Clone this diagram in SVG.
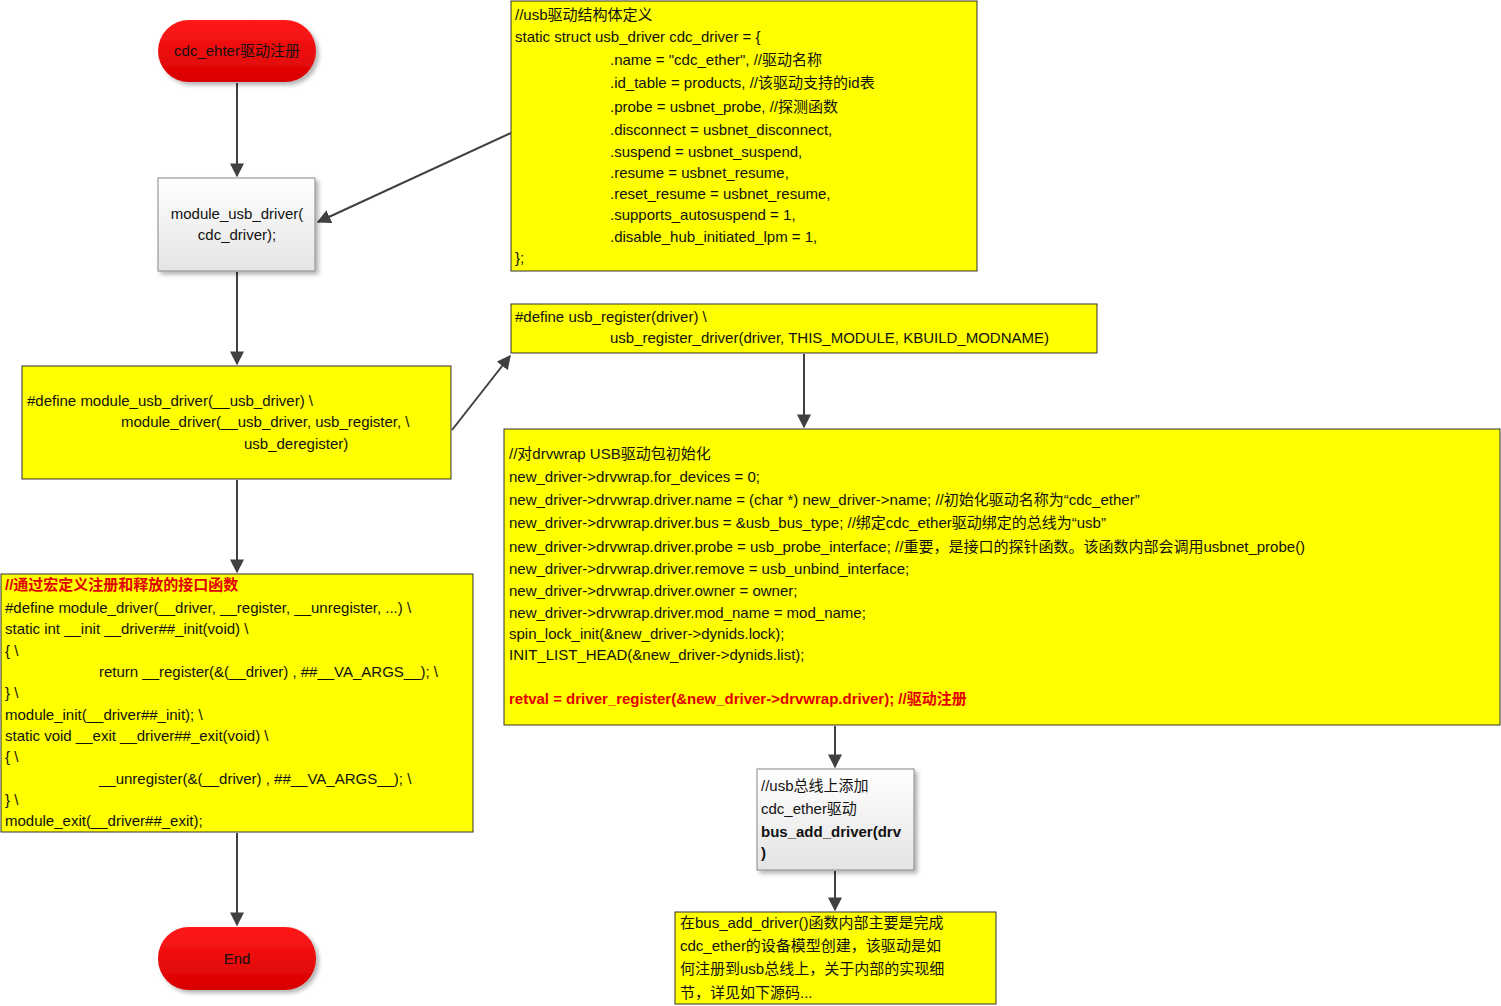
<svg xmlns="http://www.w3.org/2000/svg" width="1501" height="1006" viewBox="0 0 1501 1006">
<style>
text{font-family:"Liberation Sans","Noto Sans CJK SC",sans-serif;font-size:15px;fill:#111}
.y{fill:#ffff00;stroke:#333;stroke-width:1}
.r{fill:#e01010}
.c{stroke:#404040;stroke-width:2;fill:none;marker-end:url(#a)}
.red{fill:#e00000;font-weight:bold}
.b{font-weight:bold}
</style>
<defs>
<marker id="a" viewBox="0 0 10 10" refX="9" refY="5" markerWidth="7" markerHeight="7" orient="auto-start-reverse"><path d="M0,0L10,5L0,10z" fill="#404040"/></marker>
<linearGradient id="g" x1="0" y1="0" x2="0" y2="1"><stop offset="0" stop-color="#fff"/><stop offset="1" stop-color="#e4e4e4"/></linearGradient>
<linearGradient id="rg" x1="0" y1="0" x2="0" y2="1"><stop offset="0" stop-color="#ff1a1a"/><stop offset="1" stop-color="#d80000"/></linearGradient>
<filter id="s" x="-10%" y="-10%" width="130%" height="130%"><feDropShadow dx="3" dy="3" stdDeviation="2" flood-color="#000" flood-opacity="0.3"/></filter>
</defs>
<g id="connectors">
<path class="c" d="M237,83V176"/>
<path class="c" d="M237,272V364"/>
<path class="c" d="M237,480V572"/>
<path class="c" d="M237,833V925"/>
<path class="c" d="M511,133L318,222"/>
<path class="c" d="M452,430L510,356"/>
<path class="c" d="M804,354V427"/>
<path class="c" d="M835,726V767"/>
<path class="c" d="M835,871V910"/>
</g>
<g id="start"><rect x="158" y="20" width="158" height="62" rx="31" fill="url(#rg)" filter="url(#s)"/><text x="237" y="56" text-anchor="middle">cdc_ehter驱动注册</text></g>
<g id="module"><rect x="158" y="178" width="157" height="93" fill="url(#g)" stroke="#888" filter="url(#s)"/><text x="237" y="219" text-anchor="middle">module_usb_driver(</text><text x="237" y="240" text-anchor="middle">cdc_driver);</text></g>
<g id="struct"><rect class="y" x="511" y="1" width="466" height="270"/>
<text x="515" y="20">//usb驱动结构体定义</text>
<text x="515" y="42">static struct usb_driver cdc_driver = {</text>
<text x="610" y="65">.name = "cdc_ether", //驱动名称</text>
<text x="610" y="88">.id_table =    products, //该驱动支持的id表</text>
<text x="610" y="112">.probe =       usbnet_probe, //探测函数</text>
<text x="610" y="135">.disconnect =  usbnet_disconnect,</text>
<text x="610" y="157">.suspend =     usbnet_suspend,</text>
<text x="610" y="178">.resume =      usbnet_resume,</text>
<text x="610" y="199">.reset_resume = usbnet_resume,</text>
<text x="610" y="220">.supports_autosuspend = 1,</text>
<text x="610" y="242">.disable_hub_initiated_lpm = 1,</text>
<text x="515" y="263">};</text></g>
<g id="usbreg"><rect class="y" x="511" y="304" width="586" height="49"/>
<text x="515" y="322">#define usb_register(driver) \</text>
<text x="610" y="343">usb_register_driver(driver, THIS_MODULE, KBUILD_MODNAME)</text></g>
<g id="modusb"><rect class="y" x="22" y="366" width="429" height="113"/>
<text x="27" y="406">#define module_usb_driver(__usb_driver) \</text>
<text x="121" y="427">module_driver(__usb_driver, usb_register, \</text>
<text x="244" y="449">usb_deregister)</text></g>
<g id="moddrv"><rect class="y" x="1" y="574" width="472" height="258"/>
<text x="5" y="590" class="red">//通过宏定义注册和释放的接口函数</text>
<text x="5" y="613">#define module_driver(__driver, __register, __unregister, ...) \</text>
<text x="5" y="634">static int __init __driver##_init(void) \</text>
<text x="5" y="656">{ \</text>
<text x="99" y="677">return __register(&amp;(__driver) , ##__VA_ARGS__); \</text>
<text x="5" y="698">} \</text>
<text x="5" y="720">module_init(__driver##_init); \</text>
<text x="5" y="741">static void __exit __driver##_exit(void) \</text>
<text x="5" y="762">{ \</text>
<text x="99" y="784">__unregister(&amp;(__driver) , ##__VA_ARGS__); \</text>
<text x="5" y="805">} \</text>
<text x="5" y="826">module_exit(__driver##_exit);</text></g>
<g id="drvwrap"><rect class="y" x="504" y="429" width="996" height="296"/>
<text x="509" y="459">//对drvwrap USB驱动包初始化</text>
<text x="509" y="482">new_driver-&gt;drvwrap.for_devices = 0;</text>
<text x="509" y="505">new_driver-&gt;drvwrap.driver.name = (char *) new_driver-&gt;name; //初始化驱动名称为“cdc_ether”</text>
<text x="509" y="528">new_driver-&gt;drvwrap.driver.bus = &amp;usb_bus_type; //绑定cdc_ether驱动绑定的总线为“usb”</text>
<text x="509" y="552">new_driver-&gt;drvwrap.driver.probe = usb_probe_interface; //重要，是接口的探针函数。该函数内部会调用usbnet_probe()</text>
<text x="509" y="574">new_driver-&gt;drvwrap.driver.remove = usb_unbind_interface;</text>
<text x="509" y="596">new_driver-&gt;drvwrap.driver.owner = owner;</text>
<text x="509" y="618">new_driver-&gt;drvwrap.driver.mod_name = mod_name;</text>
<text x="509" y="639">spin_lock_init(&amp;new_driver-&gt;dynids.lock);</text>
<text x="509" y="660">INIT_LIST_HEAD(&amp;new_driver-&gt;dynids.list);</text>
<text x="509" y="704" class="red">retval = driver_register(&amp;new_driver-&gt;drvwrap.driver); //驱动注册</text></g>
<g id="busadd"><rect x="757" y="769" width="157" height="101" fill="url(#g)" stroke="#888" filter="url(#s)"/>
<text x="761" y="791">//usb总线上添加</text>
<text x="761" y="814">cdc_ether驱动</text>
<text x="761" y="837" class="b">bus_add_driver(drv</text>
<text x="761" y="858" class="b">)</text></g>
<g id="note"><rect class="y" x="675" y="912" width="321" height="92"/>
<text x="680" y="928">在bus_add_driver()函数内部主要是完成</text>
<text x="680" y="951">cdc_ether的设备模型创建，该驱动是如</text>
<text x="680" y="974">何注册到usb总线上，关于内部的实现细</text>
<text x="680" y="998">节，详见如下源码...</text></g>
<g id="end"><rect x="158" y="927" width="158" height="63" rx="31" fill="url(#rg)" filter="url(#s)"/><text x="237" y="964" text-anchor="middle">End</text></g>
</svg>
